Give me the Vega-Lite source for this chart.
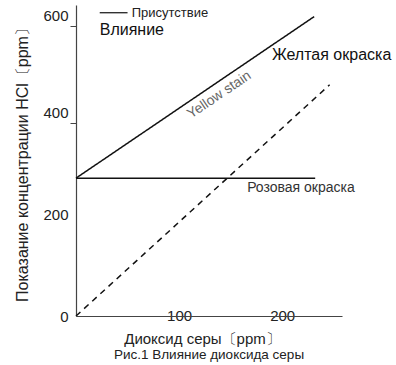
{
  "$schema": "https://vega.github.io/schema/vega-lite/v6.json",
  "autosize": "none",
  "width": 266,
  "height": 311,
  "padding": {"left": 76, "top": 5, "right": 54, "bottom": 49},
  "background": "white",
  "config": {"view": {"stroke": null}, "font": "Liberation Sans"},
  "title": {"text": "Рис.1 Влияние  диоксида  серы", "orient": "bottom", "anchor": "middle", "fontSize": 13.5, "fontWeight": "normal", "color": "#222", "offset": 2, "dx": 0},
  "datasets": {
    "lines": [
      {"series": "Желтая окраска", "x": 0, "y": 285},
      {"series": "Желтая окраска", "x": 231, "y": 619},
      {"series": "Розовая окраска", "x": 0, "y": 285},
      {"series": "Розовая окраска", "x": 232, "y": 285},
      {"series": "Влияние", "x": 0, "y": 0},
      {"series": "Влияние", "x": 246, "y": 478}
    ],
    "labels": [
      {"id": "yellow", "text": "Желтая  окраска", "x": 190, "y": 540},
      {"id": "stain", "text": "Yellow stain", "x": 139, "y": 457},
      {"id": "pink", "text": "Розовая  окраска", "x": 166, "y": 265},
      {"id": "present", "text": "Присутствие", "x": 54, "y": 627},
      {"id": "effect", "text": "Влияние", "x": 23, "y": 591}
    ],
    "legend": [{"x": 23, "x2": 50, "y": 627}]
  },
  "layer": [
    {
      "data": {"name": "lines"},
      "mark": {"type": "line", "color": "#111", "strokeWidth": 1.5},
      "encoding": {
        "x": {"field": "x", "type": "quantitative", "scale": {"domain": [0, 258], "nice": false},
          "axis": {"values": [100, 200], "tickSize": 0, "labelPadding": -8, "labelFontSize": 15, "labelColor": "#222", "domainColor": "#444", "domainWidth": 1.2, "grid": false,
            "title": "Диоксид серы〔ppm〕", "titleFontSize": 15, "titleFontWeight": "normal", "titleColor": "#222", "titlePadding": 8, "titleX": 126}},
        "y": {"field": "y", "type": "quantitative", "scale": {"domain": [0, 643], "nice": false},
          "axis": {"values": [0, 200, 400, 600], "tickSize": 6, "tickColor": "#444", "tickOpacity": {"condition": {"test": "datum.value >= 400", "value": 1}, "value": 0},
            "labelOffset": {"condition": [{"test": "datum.value >= 400", "value": -10}, {"test": "datum.value == 200", "value": -5}], "value": 0},
            "labelPadding": 2, "labelFontSize": 15, "labelColor": "#222", "domainColor": "#444", "domainWidth": 1.2, "grid": false,
            "title": "Показание концентрации HCl〔ppm〕", "titleFontSize": 16, "titleFontWeight": "normal", "titleColor": "#222", "titlePadding": 12}},
        "detail": {"field": "series"},
        "strokeDash": {"field": "series", "type": "nominal", "scale": {"domain": ["Желтая окраска", "Розовая окраска", "Влияние"], "range": [[1, 0], [1, 0], [6, 5]]}, "legend": null}
      }
    },
    {
      "data": {"name": "legend"},
      "mark": {"type": "rule", "color": "#111", "strokeWidth": 1.2},
      "encoding": {
        "x": {"field": "x", "type": "quantitative"},
        "x2": {"field": "x2"},
        "y": {"field": "y", "type": "quantitative"}
      }
    },
    {
      "data": {"name": "labels"},
      "transform": [{"filter": "datum.id == 'yellow'"}],
      "mark": {"type": "text", "align": "left", "baseline": "middle", "fontSize": 16, "color": "#111"},
      "encoding": {"x": {"field": "x", "type": "quantitative"}, "y": {"field": "y", "type": "quantitative"}, "text": {"field": "text"}}
    },
    {
      "data": {"name": "labels"},
      "transform": [{"filter": "datum.id == 'stain'"}],
      "mark": {"type": "text", "align": "center", "baseline": "middle", "fontSize": 14, "color": "#666", "angle": 326},
      "encoding": {"x": {"field": "x", "type": "quantitative"}, "y": {"field": "y", "type": "quantitative"}, "text": {"field": "text"}}
    },
    {
      "data": {"name": "labels"},
      "transform": [{"filter": "datum.id == 'pink'"}],
      "mark": {"type": "text", "align": "left", "baseline": "middle", "fontSize": 14, "color": "#333"},
      "encoding": {"x": {"field": "x", "type": "quantitative"}, "y": {"field": "y", "type": "quantitative"}, "text": {"field": "text"}}
    },
    {
      "data": {"name": "labels"},
      "transform": [{"filter": "datum.id == 'present'"}],
      "mark": {"type": "text", "align": "left", "baseline": "middle", "fontSize": 13, "color": "#222"},
      "encoding": {"x": {"field": "x", "type": "quantitative"}, "y": {"field": "y", "type": "quantitative"}, "text": {"field": "text"}}
    },
    {
      "data": {"name": "labels"},
      "transform": [{"filter": "datum.id == 'effect'"}],
      "mark": {"type": "text", "align": "left", "baseline": "middle", "fontSize": 16, "color": "#111"},
      "encoding": {"x": {"field": "x", "type": "quantitative"}, "y": {"field": "y", "type": "quantitative"}, "text": {"field": "text"}}
    }
  ]
}
